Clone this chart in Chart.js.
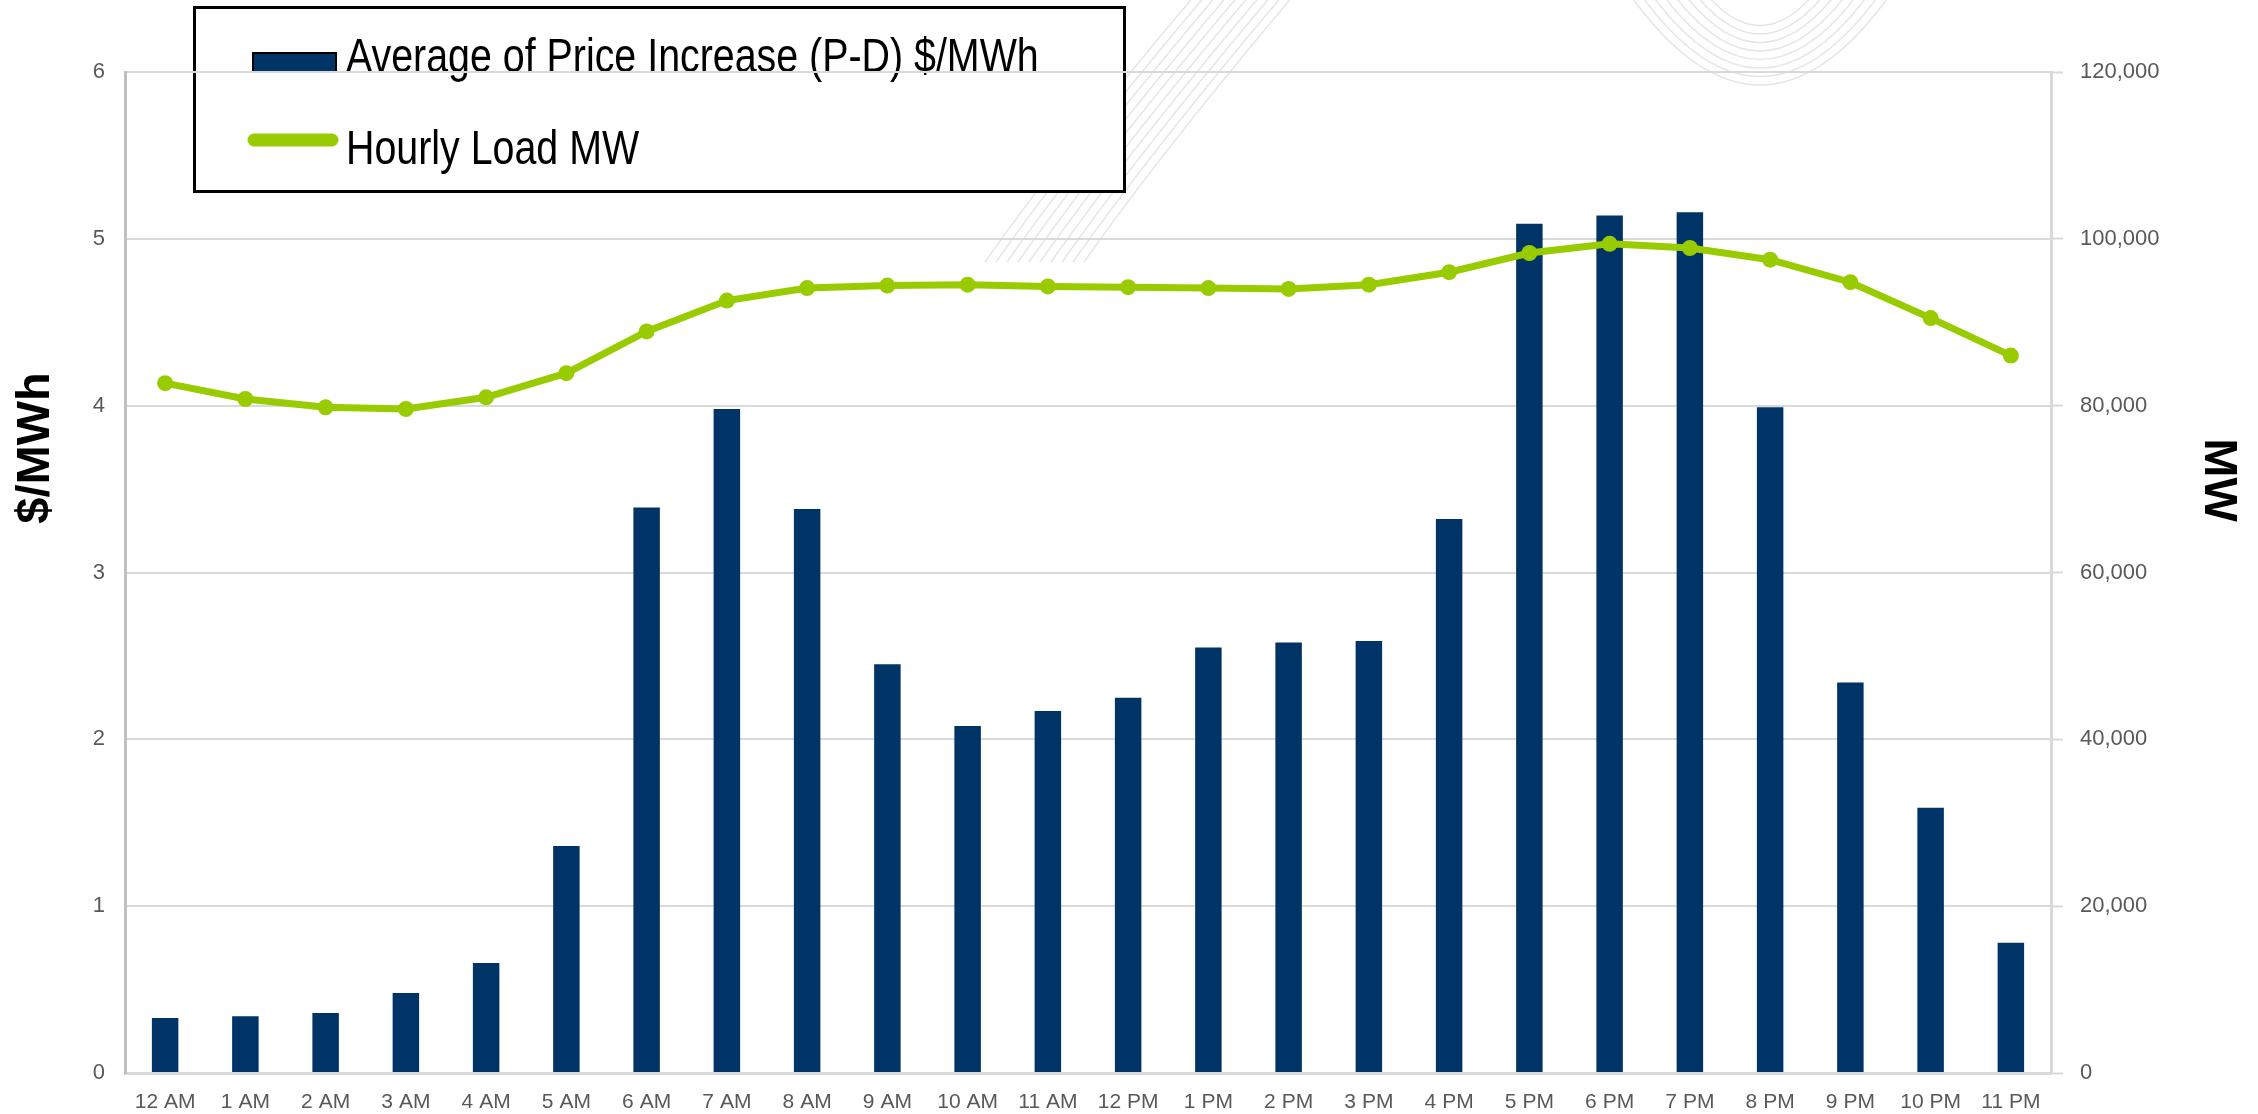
<!DOCTYPE html>
<html>
<head>
<meta charset="utf-8">
<script src="https://cdn.jsdelivr.net/npm/chart.js@4/dist/chart.umd.min.js"></script>
<style>
  html, body { margin: 0; padding: 0; background: #fff; }
  #wrap { width: 2258px; height: 1114px; position: relative; }
</style>
</head>
<body>
<div id="wrap"><canvas id="chart" width="2258" height="1114"></canvas></div>
<script>
// --- data ---
const hours = ['12 AM', '1 AM', '2 AM', '3 AM', '4 AM', '5 AM', '6 AM', '7 AM', '8 AM', '9 AM', '10 AM', '11 AM',
               '12 PM', '1 PM', '2 PM', '3 PM', '4 PM', '5 PM', '6 PM', '7 PM', '8 PM', '9 PM', '10 PM', '11 PM'];
const priceIncrease = [0.33, 0.34, 0.36, 0.48, 0.66, 1.36, 3.39, 3.98, 3.38, 2.45, 2.08, 2.17,
                       2.25, 2.55, 2.58, 2.59, 3.32, 5.09, 5.14, 5.16, 3.99, 2.34, 1.59, 0.78];
const hourlyLoad = [82700, 80800, 79800, 79600, 81000, 83900, 88900, 92600, 94100, 94400, 94500, 94300,
                    94200, 94100, 94000, 94500, 96000, 98300, 99400, 98900, 97500, 94800, 90500, 86000];
const priceAxis = { min: 0, max: 6, step: 1 };
const loadAxis = { min: 0, max: 120000, step: 20000 };
const priceLabel = 'Average of Price Increase (P-D) $/MWh';
const loadLabel = 'Hourly Load MW';

const NAVY = '#003366';
const GREEN = '#99cc00';
const TICK = '#595959';

// check whether the narrow font is there, otherwise squeeze the normal one
function fontExists(name) {
    const c = document.createElement('canvas').getContext('2d');
    const s = 'Average of Price Increase';
    c.font = '40px monospace';
    const a = c.measureText(s).width;
    c.font = `40px "${name}", monospace`;
    return c.measureText(s).width !== a;
}
const hasNarrow = fontExists('Liberation Sans Narrow');

// faint swirl from the slide background
const backdrop = {
    id: 'backdrop',
    beforeDraw(chart) {
        const ctx = chart.ctx;
        ctx.save();
        ctx.strokeStyle = 'rgba(0,0,0,0.10)';
        ctx.lineWidth = 1.5;
        for (let i = 0; i < 10; i++) {
            const dx = i * 11;
            ctx.beginPath();
            ctx.moveTo(985 + dx, 262);
            ctx.bezierCurveTo(1050 + dx, 170, 1140 + dx, 60, 1195 + dx, -5);
            ctx.stroke();
        }
        for (let i = 0; i < 8; i++) {
            ctx.beginPath();
            ctx.moveTo(1630 + i * 11, -5);
            ctx.quadraticCurveTo(1760, 175 - i * 17, 1890 - i * 11, -5);
            ctx.stroke();
        }
        ctx.restore();
    }
};

// boxed legend sitting inside the plot, under the grid lines
const boxLegend = {
    id: 'boxLegend',
    beforeDraw(chart) {
        const ctx = chart.ctx;
        const ds = chart.data.datasets;
        ctx.save();
        ctx.fillStyle = '#fff';
        ctx.fillRect(193, 6, 933, 187);
        ctx.lineWidth = 3;
        ctx.strokeStyle = '#000';
        ctx.strokeRect(194.5, 7.5, 930, 184);

        // bar swatch
        ctx.fillStyle = ds[0].backgroundColor;
        ctx.fillRect(253, 53, 83, 19);
        ctx.lineWidth = 2;
        ctx.strokeRect(253, 53, 83, 19);

        // line swatch
        ctx.strokeStyle = ds[1].borderColor;
        ctx.lineWidth = 13;
        ctx.lineCap = 'round';
        ctx.beginPath();
        ctx.moveTo(254, 140);
        ctx.lineTo(332, 140);
        ctx.stroke();

        ctx.fillStyle = '#000';
        ctx.textBaseline = 'alphabetic';
        ctx.textAlign = 'left';
        if (hasNarrow) {
            ctx.font = '48px "Liberation Sans Narrow"';
            ctx.fillText(ds[0].label, 346, 72);
            ctx.fillText(ds[1].label, 346, 164);
        } else {
            ctx.font = '48px "Liberation Sans"';
            ctx.translate(346, 0);
            ctx.scale(0.82, 1);
            ctx.fillText(ds[0].label, 0, 72);
            ctx.fillText(ds[1].label, 0, 164);
        }
        ctx.restore();
    }
};

// rotated bold axis titles
const axisTitles = {
    id: 'axisTitles',
    afterDraw(chart) {
        const ctx = chart.ctx;
        ctx.save();
        ctx.fillStyle = '#000';
        ctx.font = 'bold 47px "Liberation Sans"';
        ctx.textAlign = 'center';
        ctx.textBaseline = 'middle';
        ctx.translate(36, 448);
        ctx.rotate(-Math.PI / 2);
        ctx.fillText('$/MWh', 0, 0);
        ctx.restore();

        ctx.save();
        ctx.fillStyle = '#000';
        ctx.font = 'bold 47px "Liberation Sans"';
        ctx.textAlign = 'center';
        ctx.textBaseline = 'middle';
        ctx.translate(2218, 480);
        ctx.rotate(Math.PI / 2);
        ctx.fillText('MW', 0, 0);
        ctx.restore();
    }
};

const ctx = document.getElementById('chart').getContext('2d');
const chart = new Chart(ctx, {
    type: 'bar',
    data: {
        labels: hours,
        datasets: [
            {
                type: 'bar',
                label: priceLabel,
                data: priceIncrease,
                backgroundColor: NAVY,
                yAxisID: 'y',
                barPercentage: 0.33,
                categoryPercentage: 1,
                order: 1
            },
            {
                type: 'line',
                label: loadLabel,
                data: hourlyLoad,
                borderColor: GREEN,
                backgroundColor: GREEN,
                borderWidth: 7,
                pointRadius: 8,
                pointBorderWidth: 0,
                pointBackgroundColor: GREEN,
                tension: 0,
                yAxisID: 'y1',
                order: 0
            }
        ]
    },
    options: {
        responsive: false,
        devicePixelRatio: 1,
        animation: false,
        layout: { padding: { top: 72, left: 0, right: 0, bottom: 0 } },
        plugins: {
            legend: { display: false },
            tooltip: { enabled: false }
        },
        scales: {
            x: {
                grid: { display: false },
                border: { color: '#d9d9d9', width: 3 },
                ticks: {
                    color: TICK,
                    font: { family: 'Liberation Sans', size: 21 },
                    maxRotation: 0,
                    autoSkip: false,
                    padding: 9
                },
                afterFit: s => { s.height = 41; }
            },
            y: {
                position: 'left',
                min: priceAxis.min,
                max: priceAxis.max,
                grid: { color: '#d9d9d9', lineWidth: 2, drawTicks: false },
                border: { color: '#bfbfbf', width: 3 },
                ticks: {
                    stepSize: priceAxis.step,
                    color: TICK,
                    font: { family: 'Liberation Sans', size: 22 },
                    padding: 20
                },
                afterFit: s => { s.width = 125; }
            },
            y1: {
                position: 'right',
                min: loadAxis.min,
                max: loadAxis.max,
                grid: { drawOnChartArea: false, drawTicks: true, tickLength: 12, tickColor: '#d9d9d9', tickWidth: 2 },
                border: { color: '#d9d9d9', width: 3 },
                ticks: {
                    stepSize: loadAxis.step,
                    color: TICK,
                    font: { family: 'Liberation Sans', size: 22 },
                    padding: 17,
                    callback: v => v.toLocaleString('en-US')
                },
                afterFit: s => { s.width = 207; }
            }
        }
    },
    plugins: [backdrop, boxLegend, axisTitles]
});
</script>
</body>
</html>
